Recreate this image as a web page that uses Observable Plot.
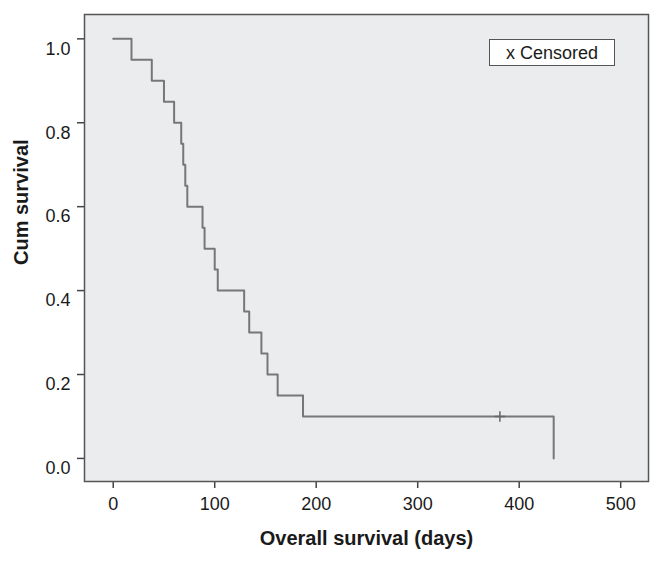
<!DOCTYPE html>
<html><head><meta charset="utf-8">
<script src="https://cdn.jsdelivr.net/npm/d3@7"></script>
<script src="https://cdn.jsdelivr.net/npm/@observablehq/plot@0.6"></script>
<style>
body{margin:0;background:#fff;}
#wrap{position:relative;width:664px;height:562px;font-family:"Liberation Sans",Arial,Helvetica,sans-serif;}
#wrap svg g[aria-label="x-axis tick label"], #wrap svg g[aria-label="y-axis tick label"]{font-size:18px !important;}
#wrap svg g[aria-label="x-axis tick label"] text, #wrap svg g[aria-label="y-axis tick label"] text{font-size:18px !important;}
#legend{position:absolute;left:489px;top:39px;width:124px;height:25px;border:1.5px solid #555;background:#fff;font-size:18px;line-height:26px;text-align:center;color:#1a1a1a;}
</style></head><body>
<div id="wrap"><div id="legend"></div></div>
<script>
// Kaplan–Meier step data (days, cumulative survival)
const times    = [0, 18, 38, 50, 60, 67, 69, 71, 73, 88, 90, 100, 103, 129, 134, 146, 152, 162, 187, 434];
const survival = [1.0, 0.95, 0.90, 0.85, 0.80, 0.75, 0.70, 0.65, 0.60, 0.55, 0.50, 0.45, 0.40, 0.35, 0.30, 0.25, 0.20, 0.15, 0.10, 0.0];
const censoredTimes = [381];
const censoredSurvival = [0.10];
const xTicks = [0, 100, 200, 300, 400, 500];
const yTicks = [0, 0.2, 0.4, 0.6, 0.8, 1.0];
const xTitle = "Overall survival (days)";
const yTitle = "Cum survival";
const legendLabel = "x Censored";

const curve = times.map((t, i) => ({t, s: survival[i]}));
const censored = censoredTimes.map((t, i) => ({t, s: censoredSurvival[i]}));

const chart = Plot.plot({
  width: 664,
  height: 562,
  marginLeft: 84,
  marginRight: 16,
  marginTop: 14,
  marginBottom: 81,
  style: {fontFamily: '"Liberation Sans", Arial, Helvetica, sans-serif', fontSize: "18px", color: "#1a1a1a", background: "transparent"},
  x: {domain: [-28.3, 527.4]},
  y: {domain: [-0.055, 1.058]},
  marks: [
    Plot.frame({fill: "#ebeced", stroke: "none"}),
    Plot.axisX(xTicks, {tickSize: 7, tickPadding: 9, label: null, stroke: "#444", strokeWidth: 1.5}),
    Plot.axisY(yTicks, {tickSize: 7, tickFormat: () => "", label: null, stroke: "#444", strokeWidth: 1.5}),
    Plot.axisY(yTicks, {tickSize: 0, tickPadding: 14, tickFormat: d3.format(".1f"), label: null, dy: 10}),
    Plot.line(curve, {x: "t", y: "s", curve: "step-after", stroke: "#777", strokeWidth: 2}),
    Plot.dot(censored, {x: "t", y: "s", symbol: "plus", r: 3.5, stroke: "#666", strokeWidth: 1.5}),
    Plot.frame({stroke: "#555", strokeWidth: 1.5}),
    Plot.text([xTitle], {frameAnchor: "bottom", dy: 57, fontSize: 20, fontWeight: "bold", lineAnchor: "middle"}),
    Plot.text([yTitle], {frameAnchor: "left", rotate: -90, dx: -63, dy: 17, fontSize: 20, fontWeight: "bold", lineAnchor: "middle"})
  ]
});
document.getElementById("wrap").prepend(chart);
document.getElementById("legend").textContent = legendLabel;
</script>
</body></html>
